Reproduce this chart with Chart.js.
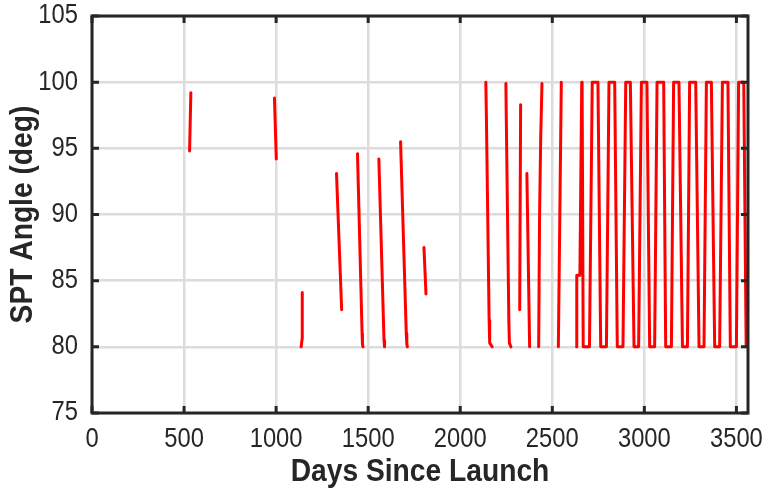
<!DOCTYPE html>
<html>
<head>
<meta charset="utf-8">
<script src="https://cdn.jsdelivr.net/npm/chart.js@4.4.1/dist/chart.umd.min.js"></script>
<style>
  html, body { margin: 0; padding: 0; background: #fff; }
  #chart { display: block; }
</style>
</head>
<body>
<canvas id="chart" width="765" height="488"></canvas>
<script>
// days since launch / SPT angle, null angle = gap between track pieces
const days = [
  530, 537, null,
  991, 1001, null,
  1136, 1141, 1142, null,
  1328, 1356, null,
  1442, 1467, 1469, 1472, null,
  1558, 1586, 1589, null,
  1676, 1707, 1710, 1713, null,
  1803, 1814, null,
  2139, 2142, 2157, 2160, 2173, null,
  2248, 2250, 2264, 2267, 2275, null,
  2323, 2328, null,
  2362, 2377, null,
  2426, 2431, 2437, 2444, null,
  2533, 2541, 2549, null
];
const angle = [
  94.8, 99.2, null,
  98.8, 94.2, null,
  80.0, 80.6, 84.1, null,
  93.1, 82.8, null,
  94.6, 81.0, 80.2, 80.0, null,
  94.2, 80.5, 80.0, null,
  95.5, 81.0, 80.2, 80.0, null,
  87.5, 84.0, null,
  100, 97.5, 82, 80.3, 80, null,
  99.9, 97.5, 82, 80.3, 80, null,
  82.8, 98.3, null,
  93.1, 80, null,
  80, 90, 95.7, 99.9, null,
  80, 90, 100, null
];
// the dense cycling period at the end of the record
const cycleDays = [
  2632, 2633, 2650, 2660, 2662, 2668,
  2702, 2717, 2748, 2763,
  2794, 2808, 2839, 2853,
  2884, 2899, 2924, 2944,
  2969, 2984, 3014, 3029,
  3056, 3069, 3105, 3116,
  3147, 3159, 3188, 3207,
  3234, 3246, 3279, 3297,
  3324, 3337, 3364, 3382,
  3409, 3424, 3454, 3467,
  3500, 3512, 3540, 3553, 3562
];
const cycleAngle = [
  80, 85.4, 85.4, 100, 100, 80,
  80, 100, 100, 80,
  80, 100, 100, 80,
  80, 100, 100, 80,
  80, 100, 100, 80,
  80, 100, 100, 80,
  80, 100, 100, 80,
  80, 100, 100, 80,
  80, 100, 100, 80,
  80, 100, 100, 80,
  80, 100, 100, 80, 80
];
const xTicks = [0, 500, 1000, 1500, 2000, 2500, 3000, 3500];
const yTicks = [75, 80, 85, 90, 95, 100, 105];
const xTitle = 'Days Since Launch';
const yTitle = 'SPT Angle (deg)';

const allDays = days.concat(cycleDays);
const allAngle = angle.concat(cycleAngle);
const points = allDays.map((d, i) => ({ x: d, y: allAngle[i] }));

const axisColor = '#262626';
const tickFont = "27px 'Liberation Sans', Arial, sans-serif";
const titleFont = "bold 31px 'Liberation Sans', Arial, sans-serif";

// text squeezed sideways a little, the original uses a narrow face
function narrowText(ctx, text, x, y, font, align, sx, rot) {
  ctx.save();
  ctx.translate(x, y);
  if (rot) ctx.rotate(rot);
  ctx.scale(sx, 1);
  ctx.font = font;
  ctx.fillStyle = axisColor;
  ctx.textAlign = align;
  ctx.textBaseline = 'middle';
  ctx.fillText(text, 0, 0);
  ctx.restore();
}

// box round the plot, inward tick marks, tick labels and axis titles
const boxPlugin = {
  id: 'box',
  afterDraw(chart) {
    const { ctx, chartArea: a, scales } = chart;
    ctx.save();
    ctx.strokeStyle = axisColor;
    ctx.lineWidth = 3;
    ctx.beginPath();
    xTicks.forEach(v => {
      const px = scales.x.getPixelForValue(v);
      ctx.moveTo(px, a.bottom); ctx.lineTo(px, a.bottom - 7);
      ctx.moveTo(px, a.top); ctx.lineTo(px, a.top + 7);
    });
    yTicks.forEach(v => {
      const py = scales.y.getPixelForValue(v);
      ctx.moveTo(a.left, py); ctx.lineTo(a.left + 7, py);
      ctx.moveTo(a.right, py); ctx.lineTo(a.right - 7, py);
    });
    ctx.stroke();
    ctx.strokeRect(a.left, a.top, a.right - a.left, a.bottom - a.top);
    ctx.restore();

    xTicks.forEach(v => {
      narrowText(ctx, String(v), scales.x.getPixelForValue(v), a.bottom + 27, tickFont, 'center', 0.88);
    });
    yTicks.forEach(v => {
      narrowText(ctx, String(v), a.left - 14, scales.y.getPixelForValue(v), tickFont, 'right', 0.88);
    });
    narrowText(ctx, xTitle, (a.left + a.right) / 2, a.bottom + 59, titleFont, 'center', 0.91);
    narrowText(ctx, yTitle, 23, (a.top + a.bottom) / 2, titleFont, 'center', 0.91, -Math.PI / 2);
  }
};

new Chart(document.getElementById('chart'), {
  type: 'line',
  data: {
    datasets: [{
      data: points,
      borderColor: '#ff0000',
      borderWidth: 3,
      pointRadius: 0,
      tension: 0,
      spanGaps: false,
      borderJoinStyle: 'round',
      borderCapStyle: 'round'
    }]
  },
  options: {
    responsive: false,
    animation: false,
    layout: { padding: { top: 16, right: 17, left: 0, bottom: 0 } },
    plugins: { legend: { display: false }, tooltip: { enabled: false } },
    scales: {
      x: {
        type: 'linear',
        min: 0,
        max: 3563,
        afterBuildTicks: s => { s.ticks = xTicks.map(v => ({ value: v })); },
        afterFit: s => { s.height = 75; s.paddingLeft = 0; s.paddingRight = 0; },
        grid: { color: '#dcdcdc', lineWidth: 2.5, drawTicks: false },
        border: { display: false },
        ticks: { display: false }
      },
      y: {
        min: 75,
        max: 105,
        afterBuildTicks: s => { s.ticks = yTicks.map(v => ({ value: v })); },
        afterFit: s => { s.width = 92; s.paddingTop = 0; s.paddingBottom = 0; },
        grid: { color: '#dcdcdc', lineWidth: 2.5, drawTicks: false },
        border: { display: false },
        ticks: { display: false }
      }
    }
  },
  plugins: [boxPlugin]
});
</script>
</body>
</html>
